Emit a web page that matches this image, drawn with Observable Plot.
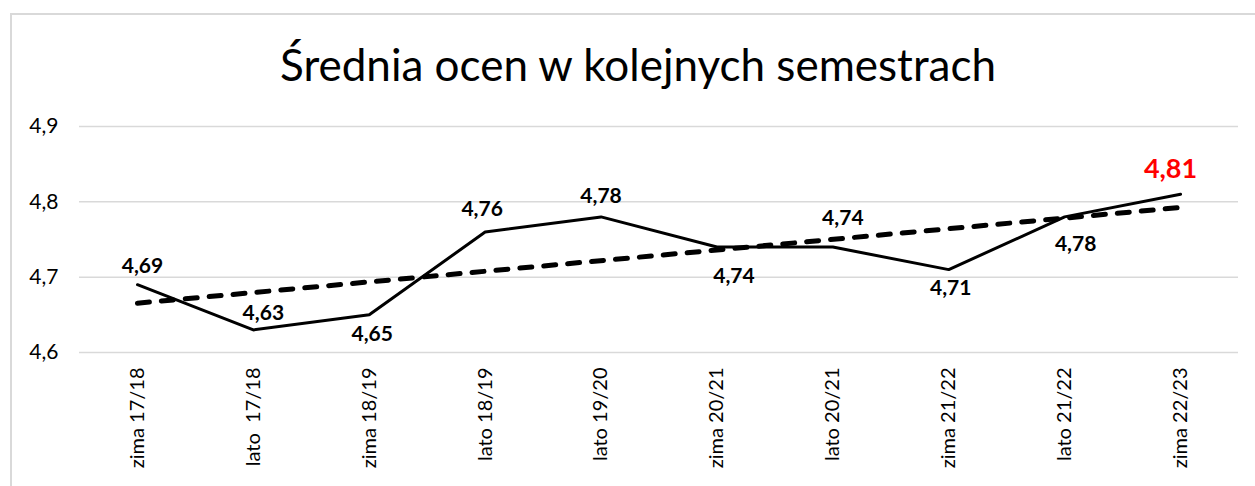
<!DOCTYPE html>
<html>
<head>
<meta charset="utf-8">
<script src="https://cdn.jsdelivr.net/npm/d3@7"></script>
<script src="https://cdn.jsdelivr.net/npm/@observablehq/plot@0.6"></script>
<style>
  html, body { margin: 0; padding: 0; background: #fff; width: 1255px; height: 486px; overflow: hidden; }
  #frame { position: absolute; left: 10px; top: 13px; width: 1300px; height: 500px;
           border-left: 2px solid #d9d9d9; border-top: 2px solid #d9d9d9; box-sizing: border-box; }
  #title { position: absolute; left: 0; top: 37px; width: 1276px; text-align: center;
           font-family: Lato, sans-serif; font-size: 44px; color: #000; line-height: 54px; }
  #chart { position: absolute; left: 0; top: 100px; }
  #chart svg text { white-space: pre; }
</style>
</head>
<body>
<div id="frame"></div>
<div id="title">Średnia ocen w kolejnych semestrach</div>
<div id="chart"></div>
<script>
const categories = ["zima 17/18", "lato  17/18", "zima 18/19", "lato 18/19", "lato 19/20",
                    "zima 20/21", "lato 20/21", "zima 21/22", "lato 21/22", "zima 22/23"];
const values = [4.69, 4.63, 4.65, 4.76, 4.78, 4.74, 4.74, 4.71, 4.78, 4.81];
const yTicks = [4.6, 4.7, 4.8, 4.9];

// label offsets (layout only)
const labelDx = [5, 10, 3, -3, 0, 17, 10, 2, 11, -10];
const labelDy = [-18, -17, 19, -23, -21, 29, -29, 19, 27, -25];

const fmt = d => d.toFixed(2).replace(".", ",");
const data = values.map((v, i) => ({i, v, label: fmt(v), dx: labelDx[i], dy: labelDy[i], last: i === values.length - 1}));

const chart = Plot.plot({
  width: 1255,
  height: 386,
  marginLeft: 79,
  marginRight: 17,
  marginTop: 26,
  marginBottom: 134,
  style: {fontFamily: "Lato, sans-serif", background: "transparent"},
  x: {type: "linear", domain: [-0.5, categories.length - 0.5], ticks: d3.range(categories.length),
      tickFormat: i => categories[i], label: null},
  y: {domain: [4.6, 4.9], ticks: yTicks, label: null},
  marks: [
    Plot.ruleY(yTicks, {stroke: "#d9d9d9", strokeWidth: 1.5}),
    Plot.axisX({ticks: d3.range(categories.length), tickFormat: i => categories[i], tickSize: 0,
                tickPadding: 15, tickRotate: -90, fontSize: 20, fill: "#000", label: null}),
    Plot.axisY({ticks: yTicks, tickFormat: d => d.toFixed(1).replace(".", ","), tickSize: 0,
                tickPadding: 21, fontSize: 21, fill: "#000", label: null}),
    Plot.linearRegressionY(data, {x: "i", y: "v", ci: 0, stroke: "#000", strokeWidth: 5,
                                  strokeDasharray: "12,12", strokeLinecap: "round"}),
    Plot.line(data, {x: "i", y: "v", stroke: "#000", strokeWidth: 3, strokeLinejoin: "miter"}),
    ...data.map(d => Plot.text([d], {
      x: "i", y: "v", text: "label", dx: d.dx, dy: d.dy,
      fontSize: d.last ? 27 : 21, fontWeight: "bold", fill: d.last ? "#ff0000" : "#000"
    }))
  ]
});
document.getElementById("chart").appendChild(chart);
</script>
</body>
</html>
